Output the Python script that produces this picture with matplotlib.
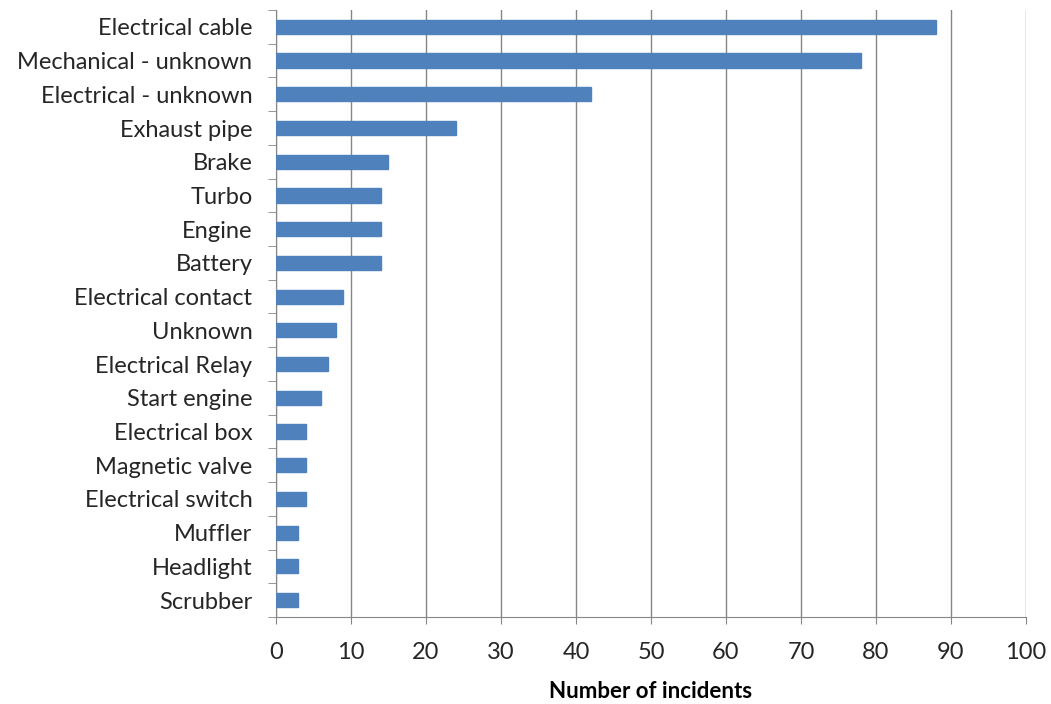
import matplotlib
matplotlib.use('Agg')
import matplotlib.pyplot as plt
import numpy as np

# categories from top to bottom
causes = ['Electrical cable', 'Mechanical - unknown', 'Electrical - unknown',
          'Exhaust pipe', 'Brake', 'Turbo', 'Engine', 'Battery',
          'Electrical contact', 'Unknown', 'Electrical Relay', 'Start engine',
          'Electrical box', 'Magnetic valve', 'Electrical switch', 'Muffler',
          'Headlight', 'Scrubber']
incidents = [88, 78, 42, 24, 15, 14, 14, 14, 9, 8, 7, 6, 4, 4, 4, 3, 3, 3]
x_ticks = [0, 10, 20, 30, 40, 50, 60, 70, 80, 90, 100]

plt.rcParams['font.family'] = ['Lato', 'DejaVu Sans']

fig = plt.figure(figsize=(10.51, 7.04), dpi=100)
ax = fig.add_axes([0.2626, 0.1236, 0.7136, 0.8622])

n = len(causes)
pos = np.arange(n)[::-1]
ax.barh(pos, incidents, height=0.42, color='#4F81BD', edgecolor='#4F81BD', zorder=3)

ax.set_xlim(0, 100)
ax.set_ylim(-0.5, n - 0.5)
ax.set_xticks(x_ticks)
ax.set_xticklabels([str(t) for t in x_ticks], fontsize=17, color='#262626')
ax.tick_params(axis='x', length=5, color='#868686', pad=13)

ax.set_yticks(pos)
ax.set_yticklabels(causes, fontsize=17, color='#262626')
ax.tick_params(axis='y', length=0, pad=17)
# category boundary tick marks
ax.set_yticks(np.arange(n + 1) - 0.5, minor=True)
ax.tick_params(axis='y', which='minor', length=6, color='#868686', direction='out')

ax.grid(axis='x', color='#868686', linewidth=1, zorder=0)
for side in ['top', 'right']:
    ax.spines[side].set_visible(False)
for side in ['left', 'bottom']:
    ax.spines[side].set_color('#868686')

ax.set_xlabel('Number of incidents', fontsize=16, fontweight='bold', labelpad=13)

fig.savefig('out.png', dpi=100)
